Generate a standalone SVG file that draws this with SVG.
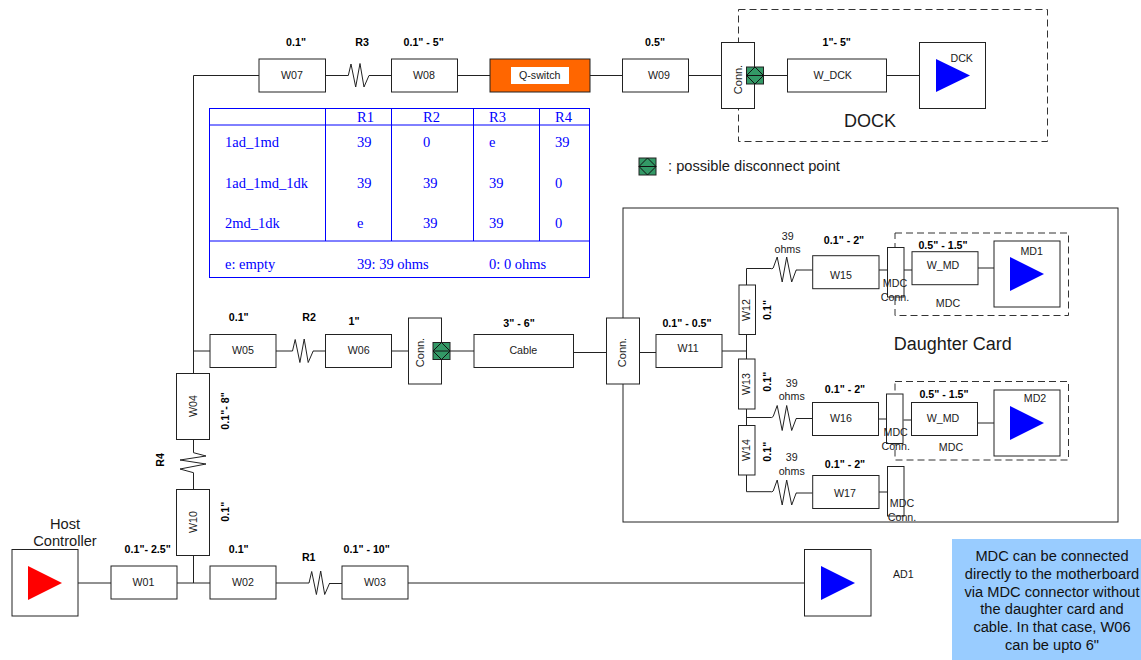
<svg xmlns="http://www.w3.org/2000/svg" xmlns:xlink="http://www.w3.org/1999/xlink" width="1141" height="660" viewBox="0 0 1141 660">
<style>
text{font-family:"Liberation Sans",Arial,sans-serif;font-size:10.67px;fill:#1a1a1a}
.c{text-anchor:middle}
.b{font-weight:bold;fill:#000}
.big{font-size:18px}
.mid{font-size:14.67px}
.box{fill:#fff;stroke:#222;stroke-width:1}
.line{fill:none;stroke:#222;stroke-width:1}
.dash{fill:none;stroke:#333;stroke-width:1;stroke-dasharray:7 4}
.tb{font-family:"Liberation Serif","Times New Roman",serif;font-size:14.5px;fill:#00f}
.tl{fill:none;stroke:#00f;stroke-width:1}
.note{font-size:14.67px;fill:#111}
.cn{font-size:11px}
</style>
<defs>
<path id="res" class="line" d="M0 0L2.700-11.500L7.400 11.500L11.700-12L15.700 11.500L20.700 0"/>
<path id="resw" class="line" d="M0 0L1.500-1L5.500-12L10.500 13L15-12L20 13L24.500 1"/>
<g id="disc"><rect width="17" height="17" fill="#339966" stroke="#222"/><path d="M0 8.500H17M8.500 0L17 8.500L8.500 17L0 8.500Z" fill="none" stroke="#111"/></g>
</defs>

<g id="dashed-boxes">
<rect class="dash" x="738.500" y="9.500" width="309" height="132"/>
<rect class="dash" x="895" y="233" width="173.500" height="82.500"/>
<rect class="dash" x="895" y="381.500" width="173.500" height="78.500"/>
<rect x="623" y="208" width="495" height="314" fill="none" stroke="#222"/>
</g>

<g id="connectors">
<path class="line" d="M193.500 373.500V75.500H259M325 75.500H348.300M369 75.500H391.500M457.500 75.500H490M590 75.500H622M688 75.500H721.500M763 75.500H787.500M886.500 75.500H919.500"/>
<path class="line" d="M193.500 351H210M276 351H292.500M313 351H325.500M391.500 351H408.500M450 351H474M573.500 352.500H606.500M639.500 352.500H656M722 351H746.500"/>
<path class="line" d="M193.500 439.500V452.700M193.500 472.700V489M193.500 555.500V583"/>
<path class="line" d="M78 583H111M177 583H210M276 583H309M330 583.500H342M408 583H804.500"/>
<path class="line" d="M746.500 285V268.500H771.700M746.500 334V359M746.500 409V425M746.500 417.500H771.700M746.500 475V491.700H771.700"/>
<path class="line" d="M796 270H812.700M796 418.500H812.500M796 493H812.700"/>
<path class="line" d="M879 270H887M904 270H912M978 268H994M878.500 419H886.500M903.500 420H911.500M977.500 423H994M879 492H887"/>
<use xlink:href="#res" href="#res" x="348.300" y="75.500"/>
<use xlink:href="#res" href="#res" x="292.500" y="351"/>
<use xlink:href="#res" href="#res" x="309" y="583"/>
<use xlink:href="#resw" href="#resw" x="771.700" y="269"/>
<use xlink:href="#resw" href="#resw" x="771.700" y="417.500"/>
<use xlink:href="#resw" href="#resw" x="771.700" y="492"/>
<path class="line" d="M193.500 452.700L206 456L180 460L206 464L180 469L193.500 472.700"/>
</g>

<g id="host"><rect class="box" x="12" y="549.500" width="66" height="66.500"/><path d="M28 566L62 583L28 600Z" fill="#f00"/>
<text class="mid c" x="65" y="529">Host</text><text class="mid c" x="65" y="546">Controller</text></g>
<g id="W01"><rect class="box" x="111" y="566" width="66" height="33"/><text class="c" x="143.500" y="586">W01</text></g>
<g id="W02"><rect class="box" x="210" y="566" width="66" height="33"/><text class="c" x="243" y="586">W02</text></g>
<g id="W03"><rect class="box" x="342" y="566" width="66" height="33"/><text class="c" x="375" y="586">W03</text></g>
<g id="W04"><rect class="box" x="176.500" y="373.500" width="33" height="66"/><text class="c" transform="translate(196.500 406) rotate(-90)">W04</text></g>
<g id="W10"><rect class="box" x="176.500" y="489.500" width="33" height="66"/><text class="c" transform="translate(196.500 522) rotate(-90)">W10</text></g>
<g id="W05"><rect class="box" x="210" y="334.500" width="66" height="33"/><text class="c" x="243" y="354">W05</text></g>
<g id="W06"><rect class="box" x="325.500" y="334.500" width="66" height="33"/><text class="c" x="358.700" y="354">W06</text></g>
<g id="conn1"><rect class="box" x="408.500" y="318" width="33" height="66"/><text class="c cn" transform="translate(424 352.500) rotate(-90)">Conn.</text><use xlink:href="#disc" href="#disc" x="433" y="342.500"/></g>
<g id="cable"><rect class="box" x="474" y="334.500" width="99.500" height="33"/><text class="c" x="523.300" y="354">Cable</text></g>
<g id="conn2"><rect class="box" x="606.500" y="318" width="33" height="66"/><text class="c cn" transform="translate(626 352.500) rotate(-90)">Conn.</text></g>
<g id="W11"><rect class="box" x="656" y="334.500" width="66" height="33"/><text class="c" x="688" y="352">W11</text></g>
<g id="W07"><rect class="box" x="259" y="59" width="66.500" height="33"/><text class="c" x="292" y="79">W07</text></g>
<g id="W08"><rect class="box" x="391.500" y="59" width="66" height="33"/><text class="c" x="424" y="79">W08</text></g>
<g id="qswitch"><rect x="490" y="59" width="100" height="33" fill="#f60" stroke="#222"/><rect x="511" y="67" width="58" height="17" fill="#fff"/><text class="c" x="539.700" y="79">Q-switch</text></g>
<g id="W09"><rect class="box" x="622.500" y="59" width="66" height="33"/><text class="c" x="659" y="79">W09</text></g>
<g id="conn3"><rect class="box" x="721.500" y="42.500" width="33" height="66"/><text class="c cn" transform="translate(742 79.500) rotate(-90)">Conn.</text><use xlink:href="#disc" href="#disc" x="746.500" y="67"/></g>
<g id="W_DCK"><rect class="box" x="787.500" y="59" width="99" height="33"/><text class="c" x="832.700" y="79">W_DCK</text></g>
<g id="DCK"><rect class="box" x="919.500" y="42.500" width="66" height="66"/><path d="M936 59L970 75.500L936 92Z" fill="#00f"/><text class="c" x="961.700" y="62">DCK</text></g>
<g id="dock-label"><text class="big c" x="870" y="127">DOCK</text></g>
<g id="legend"><use xlink:href="#disc" href="#disc" x="639" y="158"/><text class="mid" x="668" y="171">: possible disconnect point</text></g>

<g id="table">
<rect class="tl" x="209.500" y="108.500" width="380" height="169"/>
<path class="tl" d="M209.500 125H589.500M209.500 241H589.500M325.500 108.500V241M391.500 108.500V241M473.500 108.500V241M539.500 108.500V241"/>
<text class="tb" x="357" y="122">R1</text><text class="tb" x="423" y="122">R2</text><text class="tb" x="489" y="122">R3</text><text class="tb" x="555" y="122">R4</text>
<text class="tb" x="225" y="147">1ad_1md</text><text class="tb" x="357" y="147">39</text><text class="tb" x="423" y="147">0</text><text class="tb" x="489" y="147">e</text><text class="tb" x="555" y="147">39</text>
<text class="tb" x="225" y="188">1ad_1md_1dk</text><text class="tb" x="357" y="188">39</text><text class="tb" x="423" y="188">39</text><text class="tb" x="489" y="188">39</text><text class="tb" x="555" y="188">0</text>
<text class="tb" x="225" y="228">2md_1dk</text><text class="tb" x="357" y="228">e</text><text class="tb" x="423" y="228">39</text><text class="tb" x="489" y="228">39</text><text class="tb" x="555" y="228">0</text>
<text class="tb" x="225" y="269">e: empty</text><text class="tb" x="357" y="269">39: 39 ohms</text><text class="tb" x="489" y="269">0: 0 ohms</text>
</g>

<g id="W12"><rect class="box" x="739" y="285" width="16.500" height="49.500"/><text class="c" transform="translate(750 310) rotate(-90)">W12</text></g>
<g id="W13"><rect class="box" x="738.500" y="359" width="16.500" height="50"/><text class="c" transform="translate(750 384) rotate(-90)">W13</text></g>
<g id="W14"><rect class="box" x="738.500" y="425.500" width="16.500" height="49.500"/><text class="c" transform="translate(750 450) rotate(-90)">W14</text></g>
<g id="W15"><rect class="box" x="812.700" y="255.700" width="66.300" height="33"/><text class="c" x="841" y="278.500">W15</text></g>
<g id="W16"><rect class="box" x="812.500" y="402.500" width="66" height="33"/><text class="c" x="841" y="422">W16</text></g>
<g id="W17"><rect class="box" x="812.700" y="475.500" width="66.300" height="33"/><text class="c" x="845" y="497">W17</text></g>
<g id="mdc1"><rect class="box" x="887.500" y="247.500" width="16.500" height="49.500"/><text class="c" x="895" y="287">MDC</text><text class="c" x="895" y="301">Conn.</text></g>
<g id="mdc2"><rect class="box" x="886.500" y="394" width="16.500" height="49.500"/><text class="c" x="895.700" y="435.500">MDC</text><text class="c" x="895.700" y="449.500">Conn.</text></g>
<g id="mdc3"><rect class="box" x="887.500" y="466.500" width="16.500" height="49.500"/><text class="c" x="902" y="507">MDC</text><text class="c" x="902" y="521">Conn.</text></g>
<g id="W_MD1"><rect class="box" x="912" y="251.700" width="66" height="33"/><text class="c" x="943" y="269">W_MD</text></g>
<g id="W_MD2"><rect class="box" x="911.500" y="402.500" width="66" height="33"/><text class="c" x="943" y="422">W_MD</text></g>
<g id="MD1"><rect class="box" x="994" y="241" width="66" height="66"/><path d="M1010 257L1044 274L1010 291Z" fill="#00f"/><text class="c" x="1031.700" y="255">MD1</text></g>
<g id="MD2"><rect class="box" x="994" y="390" width="66" height="66"/><path d="M1010 406L1044 423L1010 440Z" fill="#00f"/><text class="c" x="1035" y="402">MD2</text></g>
<g id="AD1"><rect class="box" x="804.500" y="549.500" width="66.500" height="66.500"/><path d="M821 566L855 583L821 600Z" fill="#00f"/><text x="893" y="578">AD1</text></g>
<g id="note"><rect x="952" y="539" width="189" height="121" fill="#9cf"/>
<text class="note c" x="1052" y="561">MDC can be connected</text><text class="note c" x="1052" y="579">directly to the motherboard</text><text class="note c" x="1052" y="597">via MDC connector without</text><text class="note c" x="1052" y="614">the daughter card and</text><text class="note c" x="1052" y="632">cable. In that case, W06</text><text class="note c" x="1052" y="650">can be upto 6"</text></g>

<g id="labels">
<text class="b c" x="296" y="46">0.1"</text><text class="b c" x="362" y="46">R3</text><text class="b c" x="423.700" y="46">0.1" - 5"</text><text class="b c" x="655" y="46">0.5"</text><text class="b c" x="836.700" y="46">1"- 5"</text>
<text class="b c" x="238.700" y="321">0.1"</text><text class="b c" x="309" y="321">R2</text><text class="b c" x="354" y="325">1"</text><text class="b c" x="519" y="327">3" - 6"</text><text class="b c" x="687" y="327">0.1" - 0.5"</text>
<text class="b c" x="147.700" y="553">0.1"- 2.5"</text><text class="b c" x="238.700" y="553">0.1"</text><text class="b c" x="308.700" y="561">R1</text><text class="b c" x="366.700" y="553">0.1" - 10"</text>
<text class="b c" transform="translate(229 411) rotate(-90)">0.1"- 8"</text><text class="b c" transform="translate(229 511.700) rotate(-90)">0.1"</text><text class="b c" transform="translate(163.500 460) rotate(-90)">R4</text>
<text class="b c" transform="translate(770.500 310) rotate(-90)">0.1"</text><text class="b c" transform="translate(770.500 381.700) rotate(-90)">0.1"</text><text class="b c" transform="translate(770.500 451.700) rotate(-90)">0.1"</text>
<text class="b c" x="844" y="244">0.1" - 2"</text><text class="b c" x="943" y="249">0.5" - 1.5"</text><text class="b c" x="845" y="393">0.1" - 2"</text><text class="b c" x="944" y="398">0.5" - 1.5"</text><text class="b c" x="845" y="468">0.1" - 2"</text>
<text class="c" x="787.700" y="240">39</text><text class="c" x="787.500" y="253">ohms</text><text class="c" x="791.700" y="386.500">39</text><text class="c" x="791.700" y="400">ohms</text><text class="c" x="791.700" y="461">39</text><text class="c" x="791.700" y="475">ohms</text>
<text class="c" x="948" y="307">MDC</text><text class="c" x="951" y="451">MDC</text>
<text class="big c" x="952.700" y="350">Daughter Card</text>
</g>
</svg>
